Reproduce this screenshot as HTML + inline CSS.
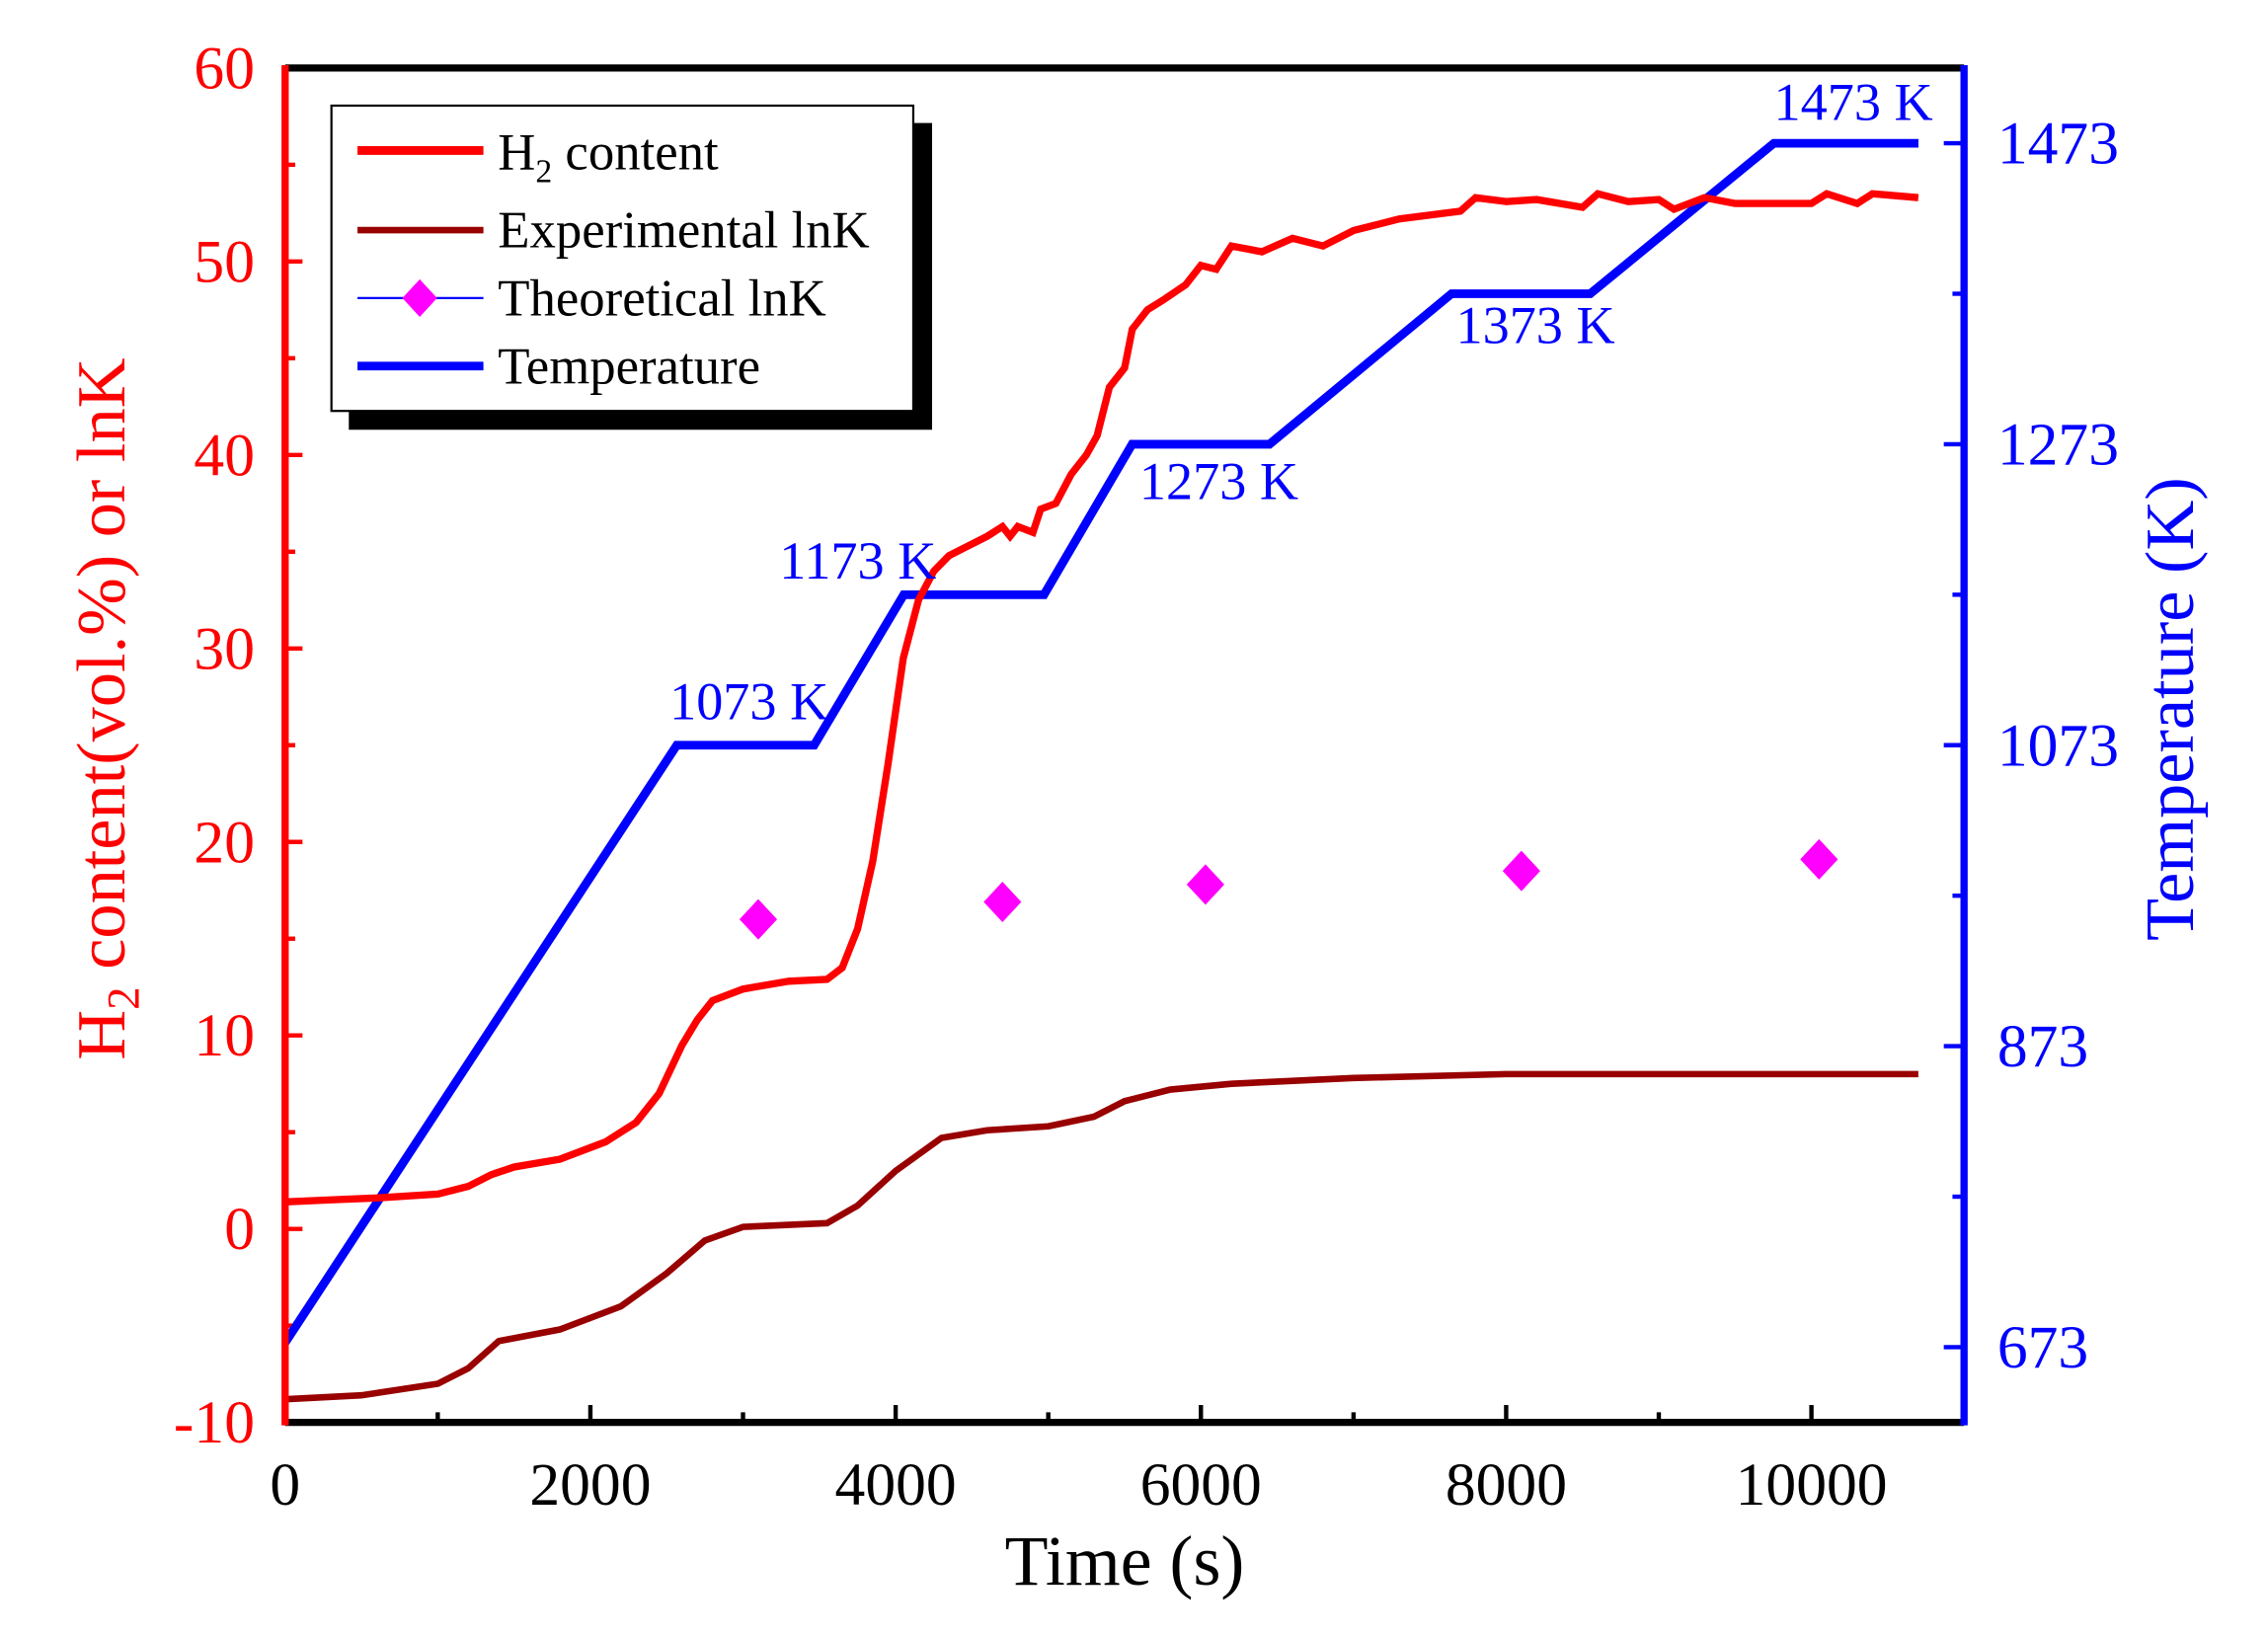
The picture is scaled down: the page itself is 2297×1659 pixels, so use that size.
<!DOCTYPE html>
<html><head><meta charset="utf-8"><style>
html,body{margin:0;padding:0;background:#fff}
svg{display:block}
text{font-family:"Liberation Serif",serif}
</style></head><body>
<svg id="chart" width="2297" height="1659" viewBox="0 0 1567 1132" preserveAspectRatio="none" xmlns="http://www.w3.org/2000/svg">
<g id="plot"></g>
</svg>
<script>
const xTicks=[0,2000,4000,6000,8000,10000];
const leftTicks=[-10,0,10,20,30,40,50,60];
const rightTicks=[673,873,1073,1273,1473];
const tempX=[0,2566,3466,4053,4972,5549,6449,7642,8551,9754,10701];
const tempY=[676,1073,1073,1173,1173,1273,1273,1373,1373,1473,1473];
const h2X=[0,300,600,1000,1200,1350,1500,1800,2100,2300,2450,2600,2700,2800,3000,3300,3550,3650,3750,3850,3950,4050,4150,4250,4350,4450,4600,4700,4750,4800,4900,4950,5050,5150,5250,5320,5400,5500,5550,5650,5750,5900,6000,6100,6200,6400,6600,6800,7000,7300,7700,7800,8000,8200,8500,8600,8800,9000,9100,9300,9500,10000,10100,10300,10400,10700];
const h2Y=[1.4,1.5,1.6,1.8,2.2,2.8,3.2,3.6,4.5,5.5,7,9.5,10.8,11.8,12.4,12.8,12.9,13.5,15.5,19,24,29.5,32.5,34,34.8,35.2,35.8,36.3,35.8,36.3,36,37.2,37.5,39,40,41,43.5,44.5,46.5,47.5,48,48.8,49.8,49.6,50.8,50.5,51.2,50.8,51.6,52.2,52.6,53.3,53.1,53.2,52.8,53.5,53.1,53.2,52.7,53.3,53.0,53.0,53.5,53.0,53.5,53.3];
const lnkX=[0,500,1000,1200,1400,1800,2200,2500,2750,3000,3550,3750,4000,4300,4600,5000,5300,5500,5800,6200,7000,8000,9000,10700];
const lnkY=[-8.8,-8.6,-8,-7.2,-5.8,-5.2,-4,-2.3,-0.6,0.1,0.3,1.2,3,4.7,5.1,5.3,5.8,6.6,7.2,7.5,7.8,8.0,8.0,8.0];
const theoX=[3100,4700,6030,8100,10050];
const theoY=[16,16.9,17.8,18.5,19.1];
const tempLabels=["1073 K","1173 K","1273 K","1373 K","1473 K"];

const L=197,R=1357,T=47,B=983;
const sx=v=>L+(v/11000)*(R-L);
const sy=v=>B-((v+10)/70)*(B-T);
const sr=v=>B-((v-623)/900)*(B-T);
const NS="http://www.w3.org/2000/svg";
const g=document.getElementById('plot');
function mk(tag,attrs){const e=document.createElementNS(NS,tag);for(const k in attrs)e.setAttribute(k,attrs[k]);g.appendChild(e);return e;}

for(let v=0;v<=11000;v+=1000){const big=v%2000===0;const t=mk('line',{x1:sx(v),x2:sx(v),y1:B,y2:B-(big?12:7),stroke:'#000','stroke-width':3});

}
xTicks.forEach(v=>{const t=mk('text',{x:sx(v),y:1040,'font-size':42,'text-anchor':'middle',fill:'#000'});t.textContent=v;

});
for(let v=-10;v<=60;v+=5){const big=v%10===0;const t=mk('line',{x1:L,x2:L+(big?12:7),y1:sy(v),y2:sy(v),stroke:'#f00','stroke-width':3});

}
leftTicks.forEach(v=>{const t=mk('text',{x:176,y:sy(v)+14,'font-size':42,'text-anchor':'end',fill:'#f00'});t.textContent=v;

});
for(let v=673;v<=1523;v+=100){const big=(v-673)%200===0;const t=mk('line',{x1:R,x2:R-(big?14:8),y1:sr(v),y2:sr(v),stroke:'#00f','stroke-width':3});

}
rightTicks.forEach(v=>{const t=mk('text',{x:1380,y:sr(v)+14,'font-size':42,fill:'#00f'});t.textContent=v;

});

function line(xs,ys,f,color,w,name){const d=xs.map((x,i)=>(i?'L':'M')+sx(x).toFixed(1)+','+f(ys[i]).toFixed(1)).join('');
const p=mk('path',{d:d,fill:'none',stroke:color,'stroke-width':w,'stroke-linejoin':'miter'});

}
line(tempX,tempY,sr,'#0000ff',6,'temperature-line');
line(lnkX,lnkY,sy,'#990000',4.5,'experimental-lnk-line');
line(h2X,h2Y,sy,'#ff0000',5,'h2-content-line');
theoX.forEach((x,i)=>{const cx=sx(x),cy=sy(theoY[i]);const p=mk('polygon',{points:`${cx},${cy-14} ${cx+13},${cy} ${cx},${cy+14} ${cx-13},${cy}`,fill:'#ff00ff'});

});

const annIdx=[1,3,5,7,9];const annDx=[-5,-86,5,3,0];const annDy=[-18,-11,38,34,-16];
annIdx.forEach((idx,i)=>{const t=mk('text',{x:sx(tempX[idx])+annDx[i],y:sr(tempY[idx])+annDy[i],'font-size':37,fill:'#00f'});t.textContent=tempLabels[i];

});

[[L,T,R,T,'#000','top-spine'],[L,B,R,B,'#000','bottom-spine'],[L,T-2,L,B+2,'#f00','left-spine'],[R,T-2,R,B+2,'#00f','right-spine']].forEach(s=>{const e=mk('line',{x1:s[0],y1:s[1],x2:s[2],y2:s[3],stroke:s[4],'stroke-width':5});

});
</script>
<svg style="position:absolute;left:0;top:0" width="2297" height="1659" viewBox="0 0 1567 1132" preserveAspectRatio="none" xmlns="http://www.w3.org/2000/svg">
<g>
<rect x="241" y="85" width="403" height="212" fill="#000"/>
<rect x="229" y="73" width="402" height="211" fill="#fff" stroke="#000" stroke-width="1.5"/>
<g><line x1="247" y1="104" x2="334" y2="104" stroke="#f00" stroke-width="6"/><text x="344" y="117" font-size="36" font-family="Liberation Serif">H<tspan font-size="23" dy="9">2</tspan><tspan dy="-9"> content</tspan></text></g>
<g><line x1="247" y1="159" x2="334" y2="159" stroke="#990000" stroke-width="4.5"/><text x="344" y="171" font-size="36" font-family="Liberation Serif">Experimental lnK</text></g>
<g><line x1="247" y1="206" x2="334" y2="206" stroke="#00f" stroke-width="1.5"/><polygon points="290,193 302,206 290,219 278,206" fill="#ff00ff"/><text x="344" y="218" font-size="36" font-family="Liberation Serif">Theoretical lnK</text></g>
<g><line x1="247" y1="253" x2="334" y2="253" stroke="#00f" stroke-width="6"/><text x="344" y="265" font-size="36" font-family="Liberation Serif">Temperature</text></g>
</g>
<text x="777" y="1095" font-size="49" text-anchor="middle" font-family="Liberation Serif">Time (s)</text>
<text transform="translate(86,490) rotate(-90)" font-size="48" text-anchor="middle" fill="#f00" font-family="Liberation Serif">H<tspan font-size="32" dy="10">2</tspan><tspan dy="-10"> content(vol.%) or lnK</tspan></text>
<text transform="translate(1515,490) rotate(-90)" font-size="48" text-anchor="middle" fill="#00f" font-family="Liberation Serif">Temperature (K)</text>
</svg>
</body></html>
